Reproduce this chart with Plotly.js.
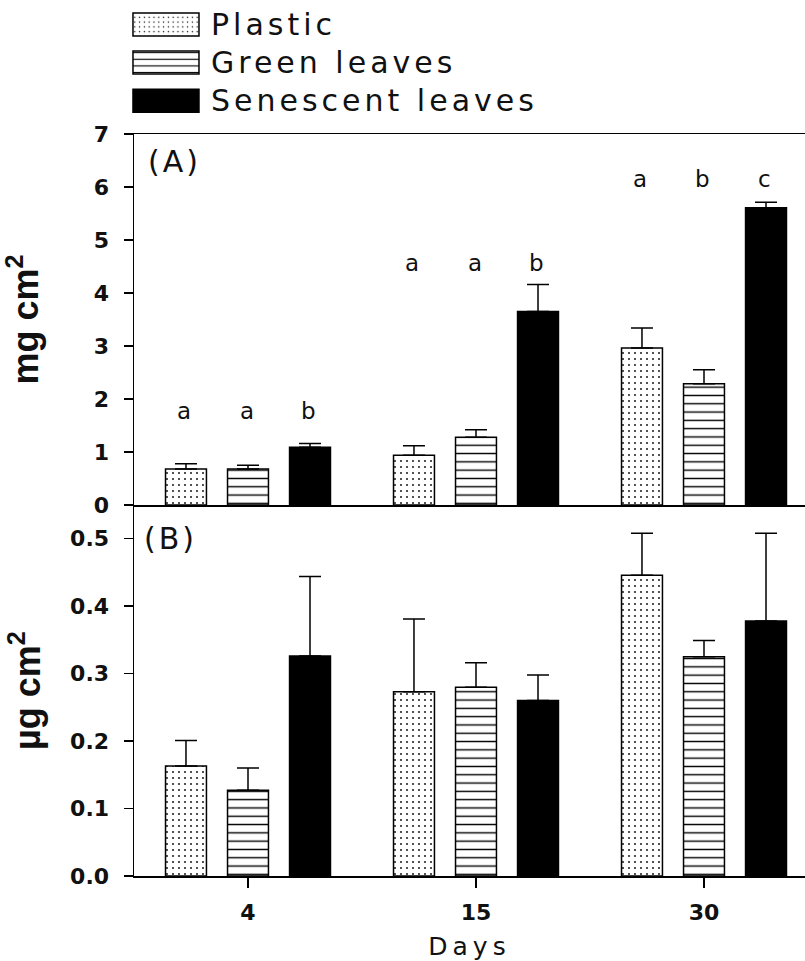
<!DOCTYPE html>
<html><head><meta charset="utf-8">
<script src="https://cdn.plot.ly/plotly-3.0.1.min.js"></script>
<style>
body{margin:0;background:#fff}
.legendtext{letter-spacing:4px;font-size:30px !important}
.g-xtitle text{letter-spacing:5px}
.annotation-text{letter-spacing:3px}
</style></head><body>
<div id="chart" style="width:805px;height:961px"></div>
<script>
// ---- data ----
const days = ['4', '15', '30'];
const seriesNames = ['Plastic', 'Green leaves', 'Senescent leaves'];

// Panel A (mg cm-2)
const plasticA = [0.68, 0.94, 2.96];
const plasticAErr = [0.10, 0.18, 0.38];
const greenA = [0.68, 1.28, 2.29];
const greenAErr = [0.07, 0.14, 0.26];
const senescentA = [1.09, 3.65, 5.61];
const senescentAErr = [0.07, 0.51, 0.10];

// significance letters in panel A, per day (Plastic, Green, Senescent)
const lettersA = [['a', 'a', 'b'], ['a', 'a', 'b'], ['a', 'b', 'c']];
const letterHeightsA = [1.77, 4.56, 6.15];

// Panel B (µg cm-2)
const plasticB = [0.163, 0.273, 0.446];
const plasticBErr = [0.038, 0.108, 0.062];
const greenB = [0.127, 0.280, 0.325];
const greenBErr = [0.033, 0.036, 0.024];
const senescentB = [0.326, 0.260, 0.378];
const senescentBErr = [0.118, 0.038, 0.130];

const yTicksA = [0, 1, 2, 3, 4, 5, 6, 7];
const yTicksB = [0, 0.1, 0.2, 0.3, 0.4, 0.5];

// ---- styles ----
const styles = [
  {color: 'white', pattern: {shape: '.', fgcolor: 'black', bgcolor: 'white', size: 6, solidity: 0.07, fillmode: 'replace'}},
  {color: 'white', pattern: {shape: '-', fgcolor: 'black', bgcolor: 'white', size: 8.3, solidity: 0.17, fillmode: 'replace'}},
  {color: 'black'}
];

function barTrace(name, vals, errs, idx, xa, ya, showlegend) {
  const st = styles[idx];
  const marker = {color: st.color, line: {color: 'black', width: 1.5}};
  if (st.pattern) marker.pattern = st.pattern;
  return {
    type: 'bar', name: name, x: days, y: vals,
    xaxis: xa, yaxis: ya, showlegend: showlegend, legendgroup: name,
    marker: marker,
    error_y: {type: 'data', array: errs, arrayminus: errs.map(() => 0), symmetric: false,
              color: 'black', thickness: 1.5, width: 11},
    hoverinfo: 'skip'
  };
}

const data = [
  barTrace(seriesNames[0], plasticA, plasticAErr, 0, 'x2', 'y2', true),
  barTrace(seriesNames[1], greenA, greenAErr, 1, 'x2', 'y2', true),
  barTrace(seriesNames[2], senescentA, senescentAErr, 2, 'x2', 'y2', true),
  barTrace(seriesNames[0], plasticB, plasticBErr, 0, 'x', 'y', false),
  barTrace(seriesNames[1], greenB, greenBErr, 1, 'x', 'y', false),
  barTrace(seriesNames[2], senescentB, senescentBErr, 2, 'x', 'y', false)
];

const groupSlot = 0.272; // fraction of category occupied by one bar slot
const annotations = [];
lettersA.forEach((row, d) => {
  row.forEach((lt, s) => {
    annotations.push({
      x: d + (s - 1) * groupSlot, y: letterHeightsA[d], xref: 'x2', yref: 'y2',
      xanchor: 'center', yanchor: 'middle',
      text: lt, showarrow: false,
      font: {family: 'DejaVu Sans', size: 23, color: '#111'}
    });
  });
});
annotations.push({x: 0.061, y: 0.925, xref: 'paper', yref: 'y2 domain', xanchor: 'center', yanchor: 'middle',
  text: '(A)', showarrow: false, font: {family: 'DejaVu Sans', size: 30, color: '#111'}});
annotations.push({x: 0.055, y: 0.909, xref: 'paper', yref: 'y domain', xanchor: 'center', yanchor: 'middle',
  text: '(B)', showarrow: false, font: {family: 'DejaVu Sans', size: 30, color: '#111'}});

const tickFont = {family: 'DejaVu Sans', size: 22, color: '#111', weight: 'bold'};
const axCommon = {showline: true, linecolor: 'black', linewidth: 1.5, ticks: 'outside',
  ticklen: 9, tickwidth: 1.5, tickcolor: 'black', showgrid: false, zeroline: false,
  tickfont: tickFont, automargin: false};

const layout = {
  width: 805, height: 961,
  margin: {l: 134, r: 0, t: 132, b: 85},
  paper_bgcolor: 'white', plot_bgcolor: 'white',
  barmode: 'group', bargap: 0.184, bargroupgap: 0.34,
  showlegend: true,
  legend: {x: -0.0194, y: 1.18, xanchor: 'left', yanchor: 'top', traceorder: 'normal',
    font: {family: 'DejaVu Sans', size: 27, color: '#111'}, bgcolor: 'rgba(0,0,0,0)',
    itemwidth: 80, tracegroupgap: 0},
  xaxis: Object.assign({}, axCommon, {anchor: 'y', type: 'category', categoryorder: 'array',
    categoryarray: days, range: [-0.5, 2.443], ticklen: 10, ticklabelstandoff: 6,
    title: {text: 'Days', font: {family: 'DejaVu Sans', size: 25, color: '#111'}, standoff: 14}}),
  xaxis2: Object.assign({}, axCommon, {anchor: 'y2', matches: 'x', type: 'category',
    categoryorder: 'array', categoryarray: days, range: [-0.5, 2.443],
    showticklabels: false, ticks: '', mirror: true}),
  yaxis: Object.assign({}, axCommon, {domain: [0, 0.5], range: [0, 0.55], tickvals: yTicksB,
    tickformat: '.1f', ticklabelstandoff: 10,
    title: {text: 'µg cm<sup>2</sup>', font: {family: 'Liberation Sans', size: 36, color: '#111', weight: 'bold'}, standoff: 18}}),
  yaxis2: Object.assign({}, axCommon, {domain: [0.5, 1], range: [0, 7], tickvals: yTicksA,
    ticklabelstandoff: 10,
    title: {text: 'mg cm<sup>2</sup>', font: {family: 'Liberation Sans', size: 36, color: '#111', weight: 'bold'}, standoff: 45}}),
  annotations: annotations
};

// widen the legend swatches to the long rectangles of the reference
function widenSwatches() {
  document.querySelectorAll('.legend .scrollbox, .legend').forEach(el => el.removeAttribute('clip-path'));
  document.querySelectorAll('.legend .traces').forEach(tr => {
    const path = tr.querySelector('.legendpoints path');
    const txt = tr.querySelector('text.legendtext');
    if (!path || !txt) return;
    const m = path.getScreenCTM();
    const tx = txt.getBoundingClientRect();
    const wantCx = tx.left - 12 - 33;
    const cx = wantCx - m.e;
    path.setAttribute('d', `M${cx + 33},11.5H${cx - 33}V-11.5H${cx + 33}Z`);
  });
}

const gd = document.getElementById('chart');
const p = Plotly.newPlot(gd, data, layout, {displayModeBar: false, staticPlot: true});
widenSwatches();
p.then(() => {
  widenSwatches();
  setTimeout(widenSwatches, 100);
});
</script>
</body></html>
